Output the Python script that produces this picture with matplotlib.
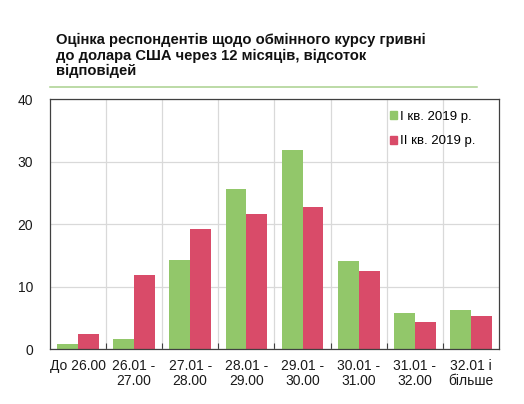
import numpy as np
import matplotlib
matplotlib.use('Agg')
import matplotlib.pyplot as plt
from matplotlib.patches import Patch
from matplotlib.lines import Line2D

plt.rcParams['font.family'] = ['Liberation Sans', 'DejaVu Sans']

# Data
categories = ['До 26.00', '26.01 -\n27.00', '27.01 -\n28.00', '28.01 -\n29.00',
              '29.01 -\n30.00', '30.01 -\n31.00', '31.01 -\n32.00', '32.01 і\nбільше']
q1_2019 = [0.75, 1.65, 14.25, 25.6, 31.9, 14.05, 5.8, 6.2]
q2_2019 = [2.35, 11.85, 19.3, 21.7, 22.75, 12.55, 4.4, 5.3]
series_names = ['I кв. 2019 р.', 'II кв. 2019 р.']
title = ('Оцінка респондентів щодо обмінного курсу гривні\n'
         'до долара США через 12 місяців, відсоток\nвідповідей')

green = '#92C76A'
red = '#D94B69'
grid_col = '#D9D9D9'
spine_col = '#404040'

fig = plt.figure(figsize=(5.24, 4.04), dpi=100)
ax = fig.add_axes([0.0948, 0.1361, 0.858, 0.618])

x = np.arange(len(categories))
w = 0.37
ax.bar(x - w / 2, q1_2019, width=w, color=green, linewidth=0, zorder=3)
ax.bar(x + w / 2, q2_2019, width=w, color=red, linewidth=0, zorder=3)

ax.set_xlim(-0.5, len(categories) - 0.5)
ax.set_ylim(0, 40)
ax.set_yticks([0, 10, 20, 30, 40])
ax.set_xticks(x)
ax.set_xticklabels(categories, fontsize=10, color='#1a1a1a', linespacing=1.15)
ax.set_xticks(np.arange(0.5, len(categories) - 1, 1), minor=True)
ax.tick_params(axis='x', which='major', length=0, pad=7)
ax.tick_params(axis='x', which='minor', direction='in', length=4, width=0.8, color=spine_col)
ax.tick_params(axis='y', length=0, pad=12, labelsize=10, labelcolor='#1a1a1a')

ax.grid(True, axis='y', color=grid_col, linewidth=0.9, zorder=0)
ax.grid(True, axis='x', which='minor', color=grid_col, linewidth=0.9, zorder=0)
for s in ax.spines.values():
    s.set_color(spine_col)
    s.set_linewidth(0.9)
    s.set_zorder(4)

handles = [Patch(color=green), Patch(color=red)]
ax.legend(handles, series_names, loc='upper left', bbox_to_anchor=(0.745, 0.975),
          frameon=False, fontsize=9.5, handlelength=0.55, handleheight=0.55,
          handletextpad=0.2, labelspacing=0.95, borderaxespad=0)

fig.text(0.107, 0.918, title, fontsize=10.6, fontweight='bold', va='top', ha='left',
         linespacing=1.13, color='#111111')
fig.add_artist(Line2D([50 / 524, 477 / 524], [0.785, 0.785], color='#A9D18E',
                      linewidth=1.1, transform=fig.transFigure))

fig.savefig('out.png', dpi=100)
